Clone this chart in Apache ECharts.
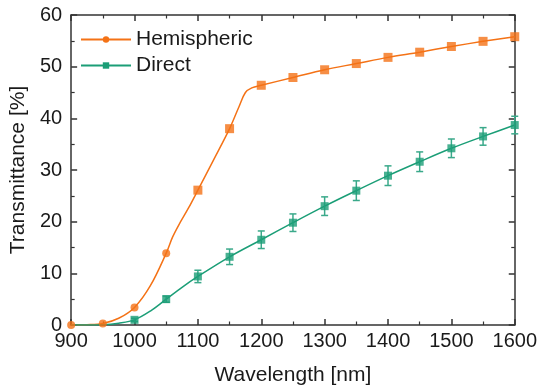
<!DOCTYPE html>
<html>
<head>
<meta charset="utf-8">
<script src="https://cdn.jsdelivr.net/npm/echarts@6/dist/echarts.min.js"></script>
<style>html,body{margin:0;padding:0;background:#fff}#c{width:540px;height:391px}</style>
</head>
<body>
<div id="c"></div>
<script>
// Marker points
const hemiX = [900, 950, 1000, 1050, 1100, 1150, 1200, 1250, 1300, 1350, 1400, 1450, 1500, 1550, 1600];
const hemiY = [0.0, 0.3, 3.4, 13.9, 26.1, 38.0, 46.4, 47.9, 49.4, 50.6, 51.8, 52.8, 53.9, 54.9, 55.8];
const directX = [1000, 1050, 1100, 1150, 1200, 1250, 1300, 1350, 1400, 1450, 1500, 1550, 1600];
const directY = [1.0, 5.0, 9.4, 13.2, 16.5, 19.8, 23.0, 26.0, 28.9, 31.6, 34.2, 36.5, 38.7];
const directErr = [0.3, 0.6, 1.2, 1.5, 1.7, 1.7, 1.8, 1.9, 1.9, 1.9, 1.8, 1.7, 1.7];
// Fitted curves
const hemiCurveX = [900, 925, 950, 975, 1000, 1025, 1050, 1060, 1070, 1085, 1100, 1125, 1150, 1165, 1175, 1185, 1200, 1250, 1300, 1350, 1400, 1450, 1500, 1550, 1600];
const hemiCurveY = [0.0, 0.05, 0.3, 1.3, 3.4, 7.6, 13.9, 17.0, 19.4, 22.6, 26.1, 32.0, 38.0, 42.3, 45.0, 45.9, 46.4, 47.9, 49.4, 50.6, 51.8, 52.8, 53.9, 54.9, 55.8];
const directCurveX = [900, 925, 950, 975, 1000, 1025, 1050, 1075, 1100, 1150, 1200, 1250, 1300, 1350, 1400, 1450, 1500, 1550, 1600];
const directCurveY = [0.0, 0.0, 0.05, 0.35, 1.0, 2.7, 5.0, 7.3, 9.4, 13.2, 16.5, 19.8, 23.0, 26.0, 28.9, 31.6, 34.2, 36.5, 38.7];
const xTicks = [900, 1000, 1100, 1200, 1300, 1400, 1500, 1600];
const yTicks = [0, 10, 20, 30, 40, 50, 60];

const ORANGE = '#f47216';
const TEAL = '#1b9e77';
const FONT = 'Liberation Sans, Arial, sans-serif';
const zip = (a, b) => a.map((v, i) => [v, b[i]]);

const axisLine = {show: true, onZero: false, lineStyle: {color: '#333', width: 1.5}};
const tick = {show: true, inside: true, length: 6, lineStyle: {color: '#333', width: 1.5}};
const minor = {show: true, splitNumber: 2, length: 3.5, lineStyle: {color: '#333', width: 1.2}};
const xBase = {type: 'value', min: xTicks[0], max: xTicks[xTicks.length - 1], interval: 100,
  axisLine, axisTick: tick, minorTick: minor, splitLine: {show: false}, minorSplitLine: {show: false}};
const yBase = {type: 'value', min: yTicks[0], max: yTicks[yTicks.length - 1], interval: 10,
  axisLine, axisTick: tick, minorTick: minor, splitLine: {show: false}, minorSplitLine: {show: false}};

const chart = echarts.init(document.getElementById('c'), null, {renderer: 'canvas'});
chart.setOption({
  animation: false,
  backgroundColor: '#fff',
  grid: {left: 70, right: 24, top: 15, bottom: 65},
  legend: {
    data: ['Hemispheric', 'Direct'], orient: 'vertical', left: 80, top: 29, padding: 0,
    itemWidth: 50, itemHeight: 8, itemGap: 5,
    textStyle: {fontFamily: FONT, fontSize: 21, color: '#1a1a1a'}
  },
  xAxis: [
    Object.assign({}, xBase, {position: 'bottom', name: 'Wavelength [nm]', nameLocation: 'middle', nameGap: 40,
      nameTextStyle: {fontFamily: FONT, fontSize: 21, color: '#1a1a1a'},
      axisLabel: {fontFamily: FONT, fontSize: 20, color: '#1a1a1a', margin: 6, formatter: v => String(v)}}),
    Object.assign({}, xBase, {position: 'top', axisLabel: {show: false}})
  ],
  yAxis: [
    Object.assign({}, yBase, {position: 'left', name: 'Transmittance [%]', nameLocation: 'middle', nameGap: 33,
      nameTextStyle: {fontFamily: FONT, fontSize: 21, color: '#1a1a1a'},
      axisLabel: {fontFamily: FONT, fontSize: 20, color: '#1a1a1a', margin: 9}}),
    Object.assign({}, yBase, {position: 'right', axisLabel: {show: false}})
  ],
  series: [
    {name: 'Hemispheric', type: 'line', data: zip(hemiCurveX, hemiCurveY), smooth: 0.35,
      showSymbol: false, symbol: 'circle', color: ORANGE, lineStyle: {color: ORANGE, width: 1.5}, z: 2},
    {name: 'Direct', type: 'line', data: zip(directCurveX, directCurveY), smooth: 0.35,
      showSymbol: false, symbol: 'rect', color: TEAL, lineStyle: {color: TEAL, width: 1.5}, z: 2},
    {name: 'DirectErr', type: 'custom', data: directX.map((x, i) => [x, directY[i], directErr[i]]),
      encode: {x: 0, y: 1}, clip: false, z: 3,
      renderItem: function (params, api) {
        const x = api.value(0), y = api.value(1), e = api.value(2);
        const t = api.coord([x, y + e]), b = api.coord([x, y - e]);
        const hw = 3.5, st = {stroke: '#3aa98a', lineWidth: 1.5};
        return {type: 'group', children: [
          {type: 'line', shape: {x1: t[0], y1: t[1], x2: b[0], y2: b[1]}, style: st},
          {type: 'line', shape: {x1: t[0] - hw, y1: t[1], x2: t[0] + hw, y2: t[1]}, style: st},
          {type: 'line', shape: {x1: b[0] - hw, y1: b[1], x2: b[0] + hw, y2: b[1]}, style: st}
        ]};
      }},
    {name: 'HemiPts', type: 'scatter', data: zip(hemiX, hemiY), clip: false, z: 4,
      symbol: function (v) { return v[0] <= 1050 ? 'circle' : 'rect'; },
      symbolSize: function (v) { return v[0] <= 1050 ? 8 : 9; },
      itemStyle: {color: ORANGE}},
    {name: 'DirectPts', type: 'scatter', data: zip(directX, directY), clip: false, z: 4,
      symbol: 'rect', symbolSize: 8, itemStyle: {color: TEAL}}
  ]
});
</script>
</body>
</html>
